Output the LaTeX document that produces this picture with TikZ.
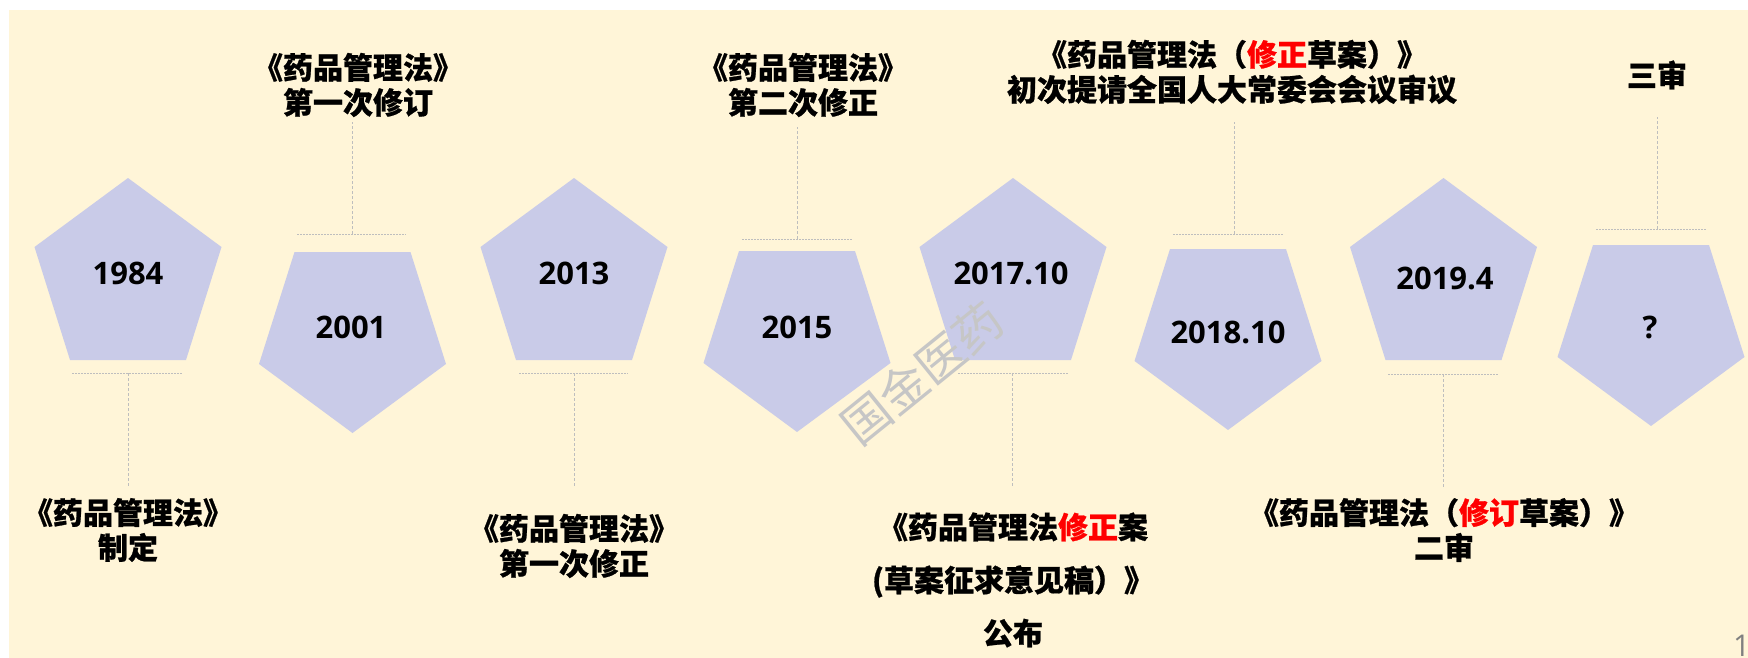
\documentclass[tikz,border=0pt]{standalone}
\usepackage{fontspec}
\setmainfont{Open Sans}
\newfontfamily\cjk{Noto Sans CJK SC}[BoldFeatures={FakeBold=0.8}]
\definecolor{bgc}{RGB}{255,245,216}
\definecolor{pentc}{RGB}{201,203,232}
\definecolor{guidec}{RGB}{190,190,190}
\definecolor{wmc}{RGB}{198,198,198}
\definecolor{redc}{RGB}{255,0,0}
\definecolor{pgc}{RGB}{128,128,128}
\newcommand\hlred[1]{\textcolor{redc}{#1}}
\newcommand\PentUp[1]{\fill[pent] ({#1},178) -- ({#1+93.5},247) -- ({#1+58},360) -- ({#1-58},360) -- ({#1-93.5},247) -- cycle;}
\newcommand\PentDn[2]{\fill[pent] ({#1-58},#2) -- ({#1+58},#2) -- ({#1+93.5},{#2+112}) -- ({#1},{#2+181}) -- ({#1-93.5},{#2+112}) -- cycle;}
\begin{document}
\begin{tikzpicture}[x=1pt,y=-1pt,
  pent/.style={fill=pentc},
  yr/.style={font=\bfseries\fontsize{31}{31}\selectfont, inner sep=0pt},
  lbl/.style={font=\cjk\bfseries\fontsize{30}{35}\selectfont, align=center, inner sep=0pt},
  lblwide/.style={font=\cjk\bfseries\fontsize{30}{53}\selectfont, align=center, inner sep=0pt},
  vguide/.style={draw=guidec, line width=1pt, dash pattern=on 3pt off 2pt},
  hguide/.style={draw=guidec, line width=1pt, dash pattern=on 1.5pt off 1.5pt},
]
\useasboundingbox (0,0) rectangle (1748,658);
\fill[white] (0,0) rectangle (1748,658);
\fill[bgc] (9,10) rectangle (1748,658);

% pentagons
\PentUp{128}
\PentDn{352.5}{252}
\PentUp{574}
\PentDn{797}{251}
\PentUp{1013}
\PentDn{1228}{249}
\PentUp{1443.5}
\PentDn{1651}{245}

% years
\node[yr] (y1984) at (128,273) {1984};
\node[yr] (y2001) at (351,327) {2001};
\node[yr] (y2013) at (574,273) {2013};
\node[yr] (y2015) at (797,327) {2015};
\node[yr] (y2017) at (1011,273) {2017.10};
\node[yr] (y2018) at (1228,332) {2018.10};
\node[yr] (y2019) at (1445,278) {2019.4};
\node[yr] (yq) at (1650,327) {?};

% labels
\node[lbl] (l1984) at (128,530) {《药品管理法》\\制定};
\node[lbl] (l2001) at (358,85) {《药品管理法》\\第一次修订};
\node[lbl] (l2013) at (574,546) {《药品管理法》\\第一次修正};
\node[lbl] (l2015) at (803,85) {《药品管理法》\\第二次修正};
\node[lblwide] (l2017) at (1013,580) {《药品管理法\hlred{修正}案\\(草案征求意见稿）》\\公布};
\node[lbl] (l2018) at (1232,72) {《药品管理法（\hlred{修正}草案）》\\初次提请全国人大常委会会议审议};
\node[lbl] (l2019) at (1444,530) {《药品管理法（\hlred{修订}草案）》\\二审};
\node[lbl] (l3) at (1657,75) {三审};

% guide coordinates
\coordinate (a1) at (128,373);   \coordinate (b1) at (128,487);
\coordinate (h1l) at (72,373);   \coordinate (h1r) at (182,373);
\coordinate (a2) at (352.5,234); \coordinate (b2) at (352.5,122);
\coordinate (h2l) at (297,234);  \coordinate (h2r) at (406,234);
\coordinate (a3) at (574,373);   \coordinate (b3) at (574,487);
\coordinate (h3l) at (519,373);  \coordinate (h3r) at (628,373);
\coordinate (a4) at (797,239);   \coordinate (b4) at (797,127);
\coordinate (h4l) at (742,239);  \coordinate (h4r) at (852,239);
\coordinate (a5) at (1012,373);  \coordinate (b5) at (1012,487);
\coordinate (h5l) at (958,373);  \coordinate (h5r) at (1068,373);
\coordinate (a6) at (1234.5,234);\coordinate (b6) at (1234.5,122);
\coordinate (h6l) at (1173,234); \coordinate (h6r) at (1283,234);
\coordinate (a7) at (1443.5,374);\coordinate (b7) at (1443.5,487);
\coordinate (h7l) at (1388,374); \coordinate (h7r) at (1498,374);
\coordinate (a8) at (1657,229);  \coordinate (b8) at (1657,117);
\coordinate (h8l) at (1596,229); \coordinate (h8r) at (1706,229);

\foreach \i in {1,...,8}{
  \draw[vguide] (a\i) -- (b\i);
  \draw[hguide] (h\i l) -- (h\i r);
}

% watermark
\node[font=\cjk\fontsize{48}{48}\selectfont, text=wmc, rotate=39] (wm) at (922,373) {国金医药};

% page number
\node[anchor=base west, text=pgc, font=\fontsize{30}{30}\selectfont, inner sep=0pt] (pg) at (1733,656) {1};
\end{tikzpicture}
\end{document}
